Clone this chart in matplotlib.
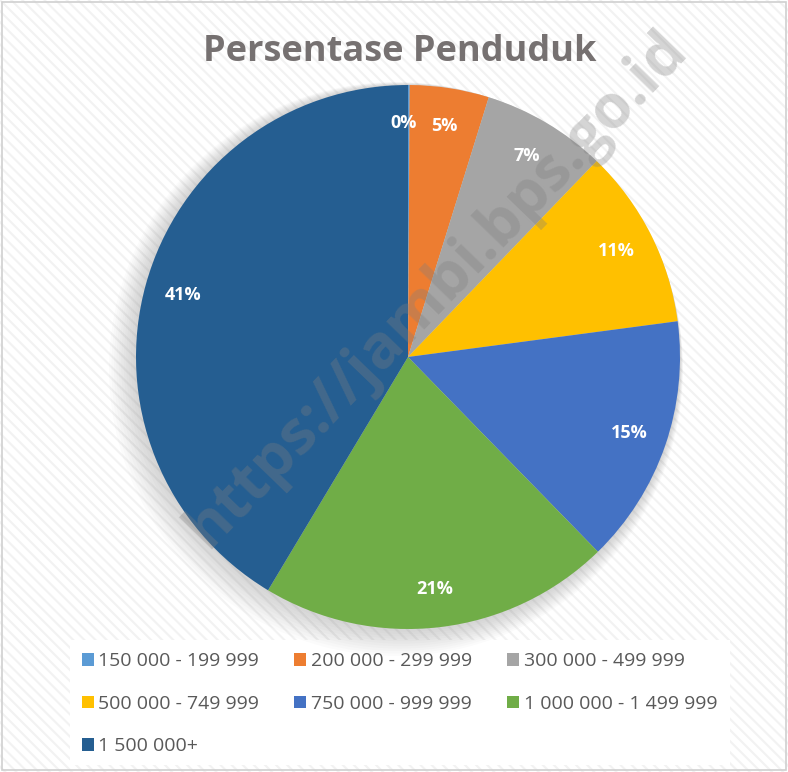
import matplotlib.pyplot as plt
from matplotlib.patches import Rectangle, Circle

# data
categories = ['150 000 - 199 999', '200 000 - 299 999', '300 000 - 499 999',
              '500 000 - 749 999', '750 000 - 999 999', '1 000 000 - 1 499 999',
              '1 500 000+']
shares = [0.1, 4.7, 7.4, 10.7, 14.8, 20.9, 41.4]
colors = ['#5B9BD5', '#ED7D31', '#A5A5A5', '#FFC000', '#4472C4', '#70AD47', '#255E91']

plt.rcParams['font.family'] = ['Open Sans', 'DejaVu Sans']
plt.rcParams['hatch.linewidth'] = 1.5

W, H = 788, 772
fig = plt.figure(figsize=(W / 100, H / 100), dpi=100)

# background: faint diagonal stripes + thin border
fig.patches.append(Rectangle((0, 0), 1, 1, transform=fig.transFigure,
                             facecolor='white', edgecolor='#f2f2f2',
                             hatch='\\\\\\', lw=0, zorder=-10))
fig.patches.append(Rectangle((0.003, 0.003), 0.994, 0.994, transform=fig.transFigure,
                             fill=False, edgecolor='#d0d0d0', lw=1.2, zorder=-5))

# pie axes (center ~ (408, 357) px, radius ~ 272 px)
cx, cy, r = 408, 357, 272
lim = 1.12
ax = fig.add_axes([(cx - r * lim) / W, 1 - (cy + r * lim) / H,
                   2 * r * lim / W, 2 * r * lim / H])
ax.axis('off')

# soft shadow around the pie
for i in range(12):
    ax.add_patch(Circle((-0.004 * i, -0.004 * i), 1 + 0.005 * i, color='#808080',
                        alpha=0.03, lw=0, zorder=0))

wedges, texts, autotexts = ax.pie(
    shares, colors=colors, startangle=90, counterclock=False,
    autopct='%.0f%%', pctdistance=0.86, radius=1,
    wedgeprops=dict(linewidth=0),
    textprops=dict(color='white', fontsize=13, fontweight='bold'))
for w in wedges:
    w.set_zorder(2)
for t in autotexts:
    t.set_zorder(3)
autotexts[0].set_x(autotexts[0].get_position()[0] - 0.02)
ax.set_xlim(-lim, lim)
ax.set_ylim(-lim, lim)
ax.set_aspect('equal')

# watermark
fig.text(0.555, 0.625, 'https://jambi.bps.go.id', rotation=46, fontsize=44,
         fontweight='bold', color='#7f7f7f', alpha=0.33, ha='center', va='center',
         zorder=10)

fig.text(0.507, 1 - 52 / H, 'Persentase Penduduk', ha='center', va='center',
         fontsize=26, fontweight='bold', color='#767171')

# legend box
fig.patches.append(Rectangle((70 / W, 1 - 765 / H), 660 / W, 125 / H,
                             transform=fig.transFigure, facecolor='white',
                             edgecolor='none', zorder=-1))
order = [0, 3, 6, 1, 4, 2, 5]
leg = fig.legend([wedges[i] for i in order], [categories[i] for i in order],
                 loc='upper left', ncol=3,
                 bbox_to_anchor=(64 / W, 1 - 635 / H), frameon=False,
                 fontsize=14, handlelength=0.62, handleheight=0.62,
                 handletextpad=0.25, columnspacing=1.8, labelspacing=1.25,
                 labelcolor='#595959')

fig.savefig('out.png', dpi=100)
